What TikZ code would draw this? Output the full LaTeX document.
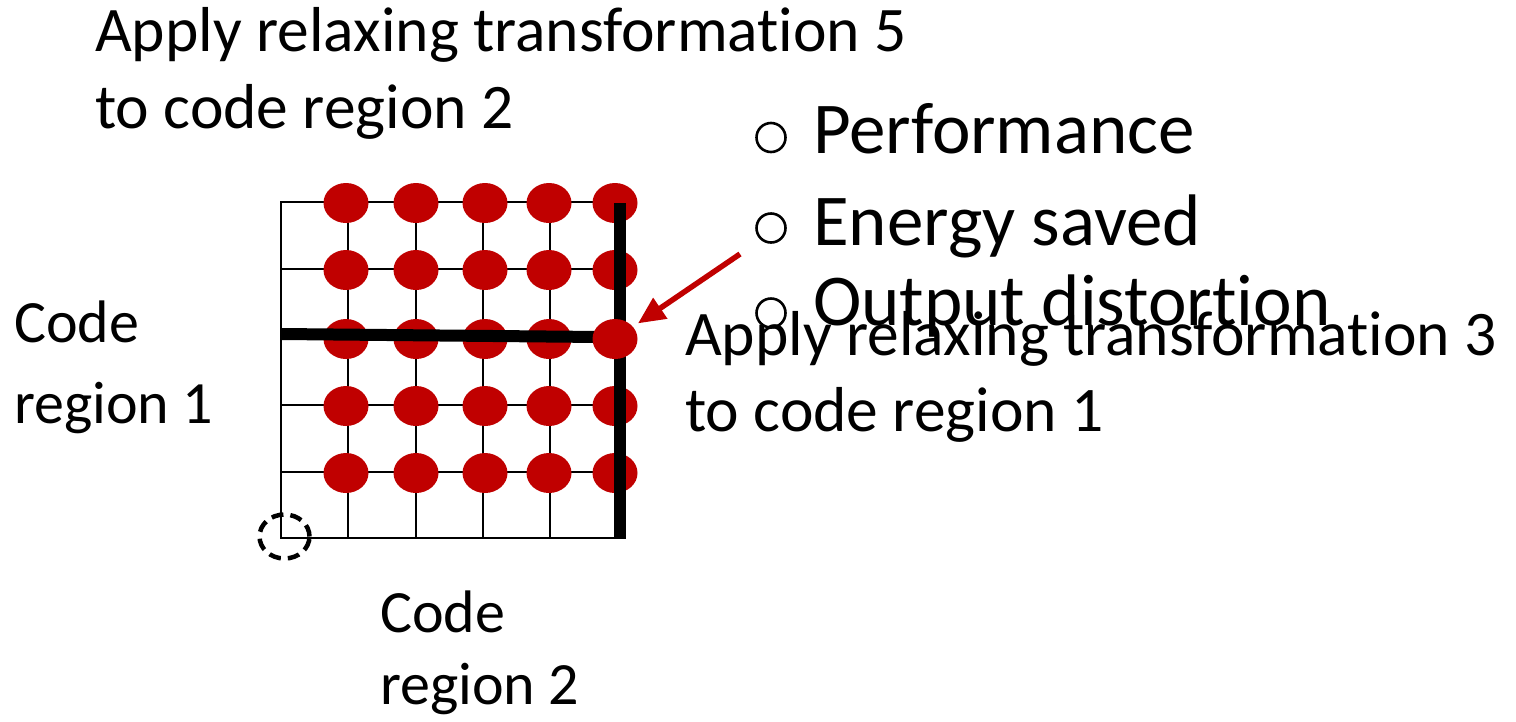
\documentclass[tikz,border=0pt]{standalone}
\usepackage{fontspec}
\setmainfont{Carlito}[Ligatures=NoCommon]
\usetikzlibrary{arrows.meta,shapes.geometric}
\definecolor{dotred}{HTML}{C00000}
\begin{document}
\begin{tikzpicture}[x=1pt,y=-1pt,
  gridline/.style={line width=1.6pt,line cap=rect},
  dot/.style={ellipse,fill=dotred,inner sep=0pt,minimum width=45pt,minimum height=40pt},
  barline/.style={line width=12pt},
  arrowline/.style={draw=dotred,line width=5.5pt,-{Triangle[length=27pt,width=24pt]}},
  bigtext/.style={anchor=base west,inner sep=0pt,font=\fontsize{63.5}{76}\selectfont},
  regiontext/.style={anchor=base west,inner sep=0pt,font=\fontsize{60}{72}\selectfont},
  bullettext/.style={anchor=base west,inner sep=0pt,font=\fontsize{73}{88}\selectfont},
  bulletmark/.style={circle,draw,line width=2.6pt,minimum size=29pt,inner sep=0pt},
  startmark/.style={ellipse,draw,dash pattern=on 12pt off 7pt,line width=4.5pt,minimum width=50pt,minimum height=44pt,inner sep=0pt}]
\useasboundingbox (0,0) rectangle (1516,721);

% grid of the iteration space
\foreach \x in {281,348,416,483,550}
  \draw[gridline] (\x,202) -- (\x,538);
\foreach \y in {202,269,337,405,472,538}
  \draw[gridline] (281,\y) -- (620,\y);

% red points (the one on the crossing is drawn last)
\foreach \c/\x in {1/346,2/416,3/485,4/549,5/615}
  \foreach \r/\y in {1/203,2/270,3/339,4/406,5/473}
  {
    \ifnum\c\r=53 \else \node[dot] (d\r\c) at (\x,\y) {};\fi
  }

% region boundaries
\draw[barline] (281,334) -- (600,337);
\draw[barline] (620,203) -- (620,539);
\node[dot] (d35) at (615,339) {};

% starting point
\node[startmark] (origin) at (284.5,536.5) {};

% arrow to the selected point
\coordinate (arrowstart) at (740,254);
\draw[arrowline,shorten >=6pt] (arrowstart) -- (d35);

% labels
\node[bigtext] (t5a) at (95,51.7) {Apply relaxing transformation 5};
\node[bigtext] (t5b) at (95,128.5) {to code region 2};

\node[regiontext] (r1a) at (14,342) {Code};
\node[regiontext] (r1b) at (14,423) {region 1};
\node[regiontext] (r2a) at (380,632) {Code};
\node[regiontext] (r2b) at (380,704) {region 2};

\node[bulletmark] (b1) at (771,137.5) {};
\node[bulletmark] (b2) at (771,228) {};
\node[bulletmark] (b3) at (771,313) {};
\node[bullettext] (m1) at (813,153.3) {Performance};
\node[bullettext] (m2) at (813,245) {Energy saved};
\node[bullettext] (m3) at (813,325) {Output distortion};

\node[bigtext] (t3a) at (685,355) {Apply relaxing transformation 3};
\node[bigtext] (t3b) at (685,431.7) {to code region 1};
\end{tikzpicture}
\end{document}
